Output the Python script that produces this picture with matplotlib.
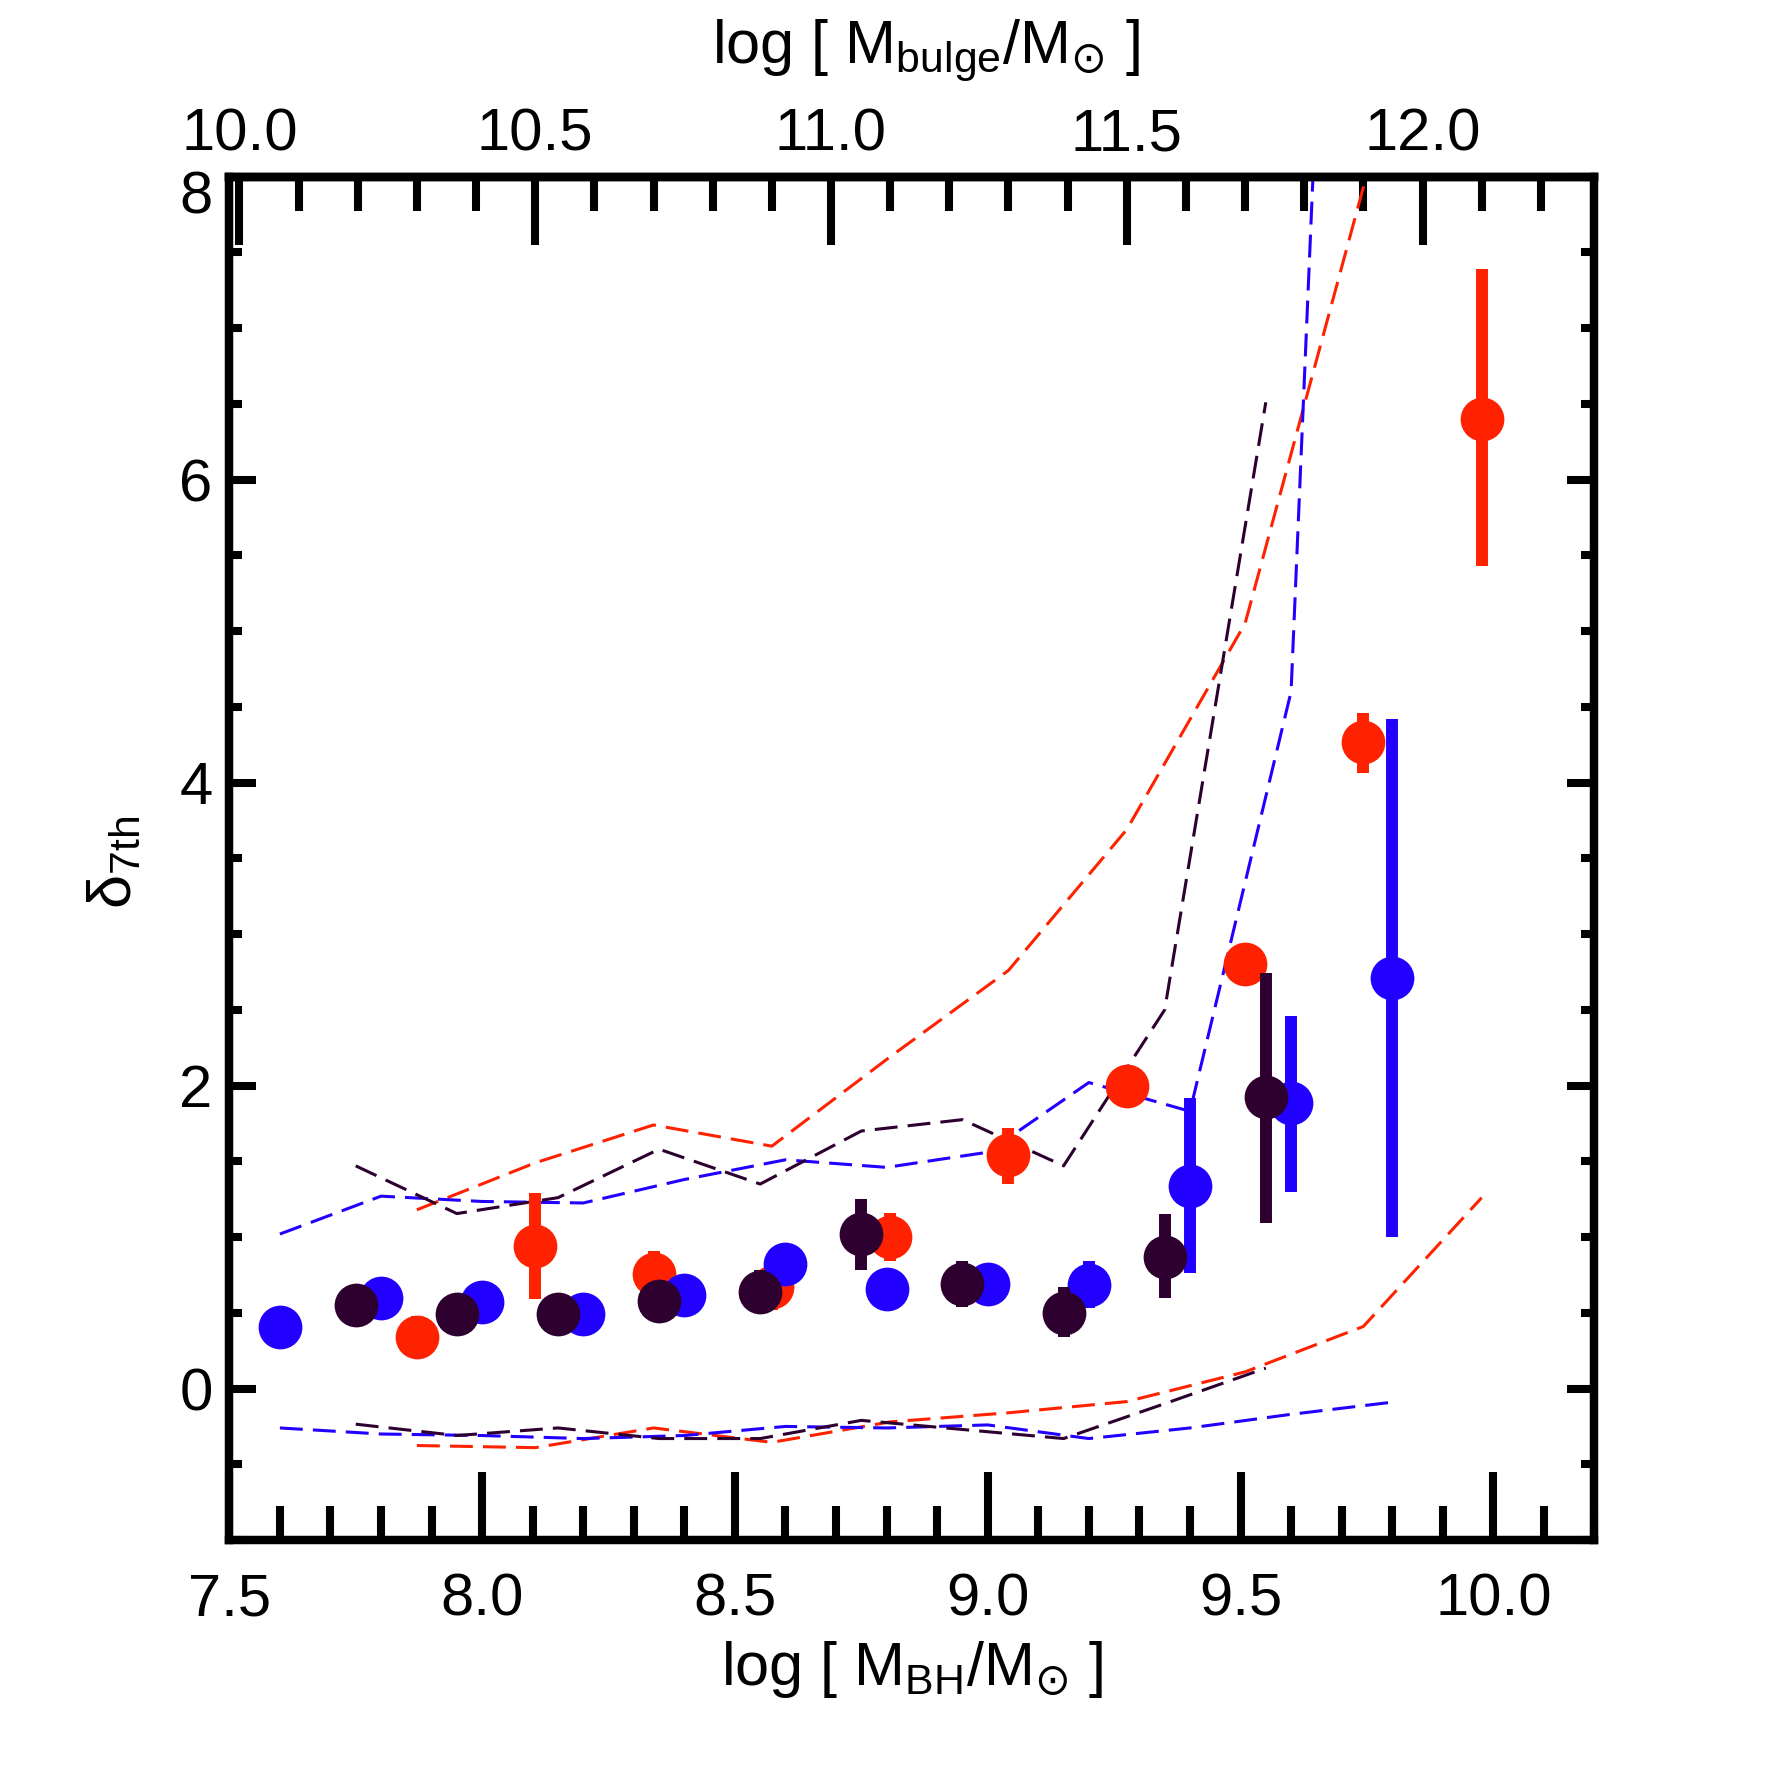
import matplotlib
matplotlib.use('Agg')
import matplotlib.pyplot as plt
from matplotlib.ticker import MultipleLocator, FixedLocator, FormatStrFormatter, FuncFormatter
import matplotlib.transforms as mtransforms

plt.rcParams['font.family'] = ['Liberation Sans', 'DejaVu Sans']
plt.rcParams['mathtext.fontset'] = 'custom'
plt.rcParams['mathtext.rm'] = 'Liberation Sans'
plt.rcParams['mathtext.it'] = 'Liberation Sans:italic'
plt.rcParams['mathtext.bf'] = 'Liberation Sans:bold'
plt.rcParams['mathtext.sf'] = 'DejaVu Sans'
plt.rcParams['mathtext.fallback'] = 'stixsans'

# ---------------- data ----------------
red_x = [7.871, 8.105, 8.339, 8.573, 8.807, 9.041, 9.275, 9.509, 9.743, 9.977]
red_y = [0.34, 0.94, 0.755, 0.67, 1.00, 1.54, 2.00, 2.80, 4.27, 6.40]
red_lo = [0.20, 0.59, 0.60, 0.52, 0.84, 1.35, 1.93, 2.73, 4.06, 5.43]
red_hi = [0.48, 1.29, 0.91, 0.82, 1.16, 1.72, 2.07, 2.87, 4.46, 7.39]
red_upper = [1.18, 1.49, 1.74, 1.60, 2.19, 2.76, 3.69, 5.05, 7.93, 12.0]
red_lower = [-0.376, -0.39, -0.26, -0.355, -0.22, -0.16, -0.086, 0.11, 0.41, 1.26]

blue_x = [7.6, 7.8, 8.0, 8.2, 8.4, 8.6, 8.8, 9.0, 9.2, 9.4, 9.6, 9.8]
blue_y = [0.405, 0.60, 0.57, 0.49, 0.62, 0.82, 0.66, 0.69, 0.685, 1.34, 1.885, 2.71]
blue_lo = [0.335, 0.53, 0.50, 0.42, 0.55, 0.75, 0.59, 0.62, 0.53, 0.76, 1.30, 1.00]
blue_hi = [0.475, 0.67, 0.64, 0.56, 0.69, 0.89, 0.73, 0.76, 0.84, 1.92, 2.46, 4.42]
blue_upper = [1.02, 1.27, 1.235, 1.225, 1.38, 1.51, 1.46, 1.56, 2.02, 1.83, 4.60, 20.3]
blue_lower = [-0.26, -0.30, -0.31, -0.33, -0.31, -0.25, -0.26, -0.24, -0.33, -0.26, -0.17, -0.09]

purple_x = [7.75, 7.95, 8.15, 8.35, 8.55, 8.75, 8.95, 9.15, 9.35, 9.55]
purple_y = [0.55, 0.49, 0.49, 0.575, 0.64, 1.02, 0.69, 0.50, 0.87, 1.925]
purple_lo = [0.48, 0.42, 0.42, 0.505, 0.50, 0.78, 0.54, 0.34, 0.60, 1.09]
purple_hi = [0.62, 0.56, 0.56, 0.645, 0.78, 1.25, 0.84, 0.67, 1.15, 2.74]
purple_upper = [1.47, 1.155, 1.26, 1.58, 1.35, 1.70, 1.775, 1.47, 2.50, 6.51]
purple_lower = [-0.235, -0.31, -0.26, -0.33, -0.33, -0.21, -0.27, -0.33, -0.10, 0.135]

top_ticks = [10.0, 10.5, 11.0, 11.5, 12.0]
# M_BH - M_bulge relation used for the top axis
rel_a, rel_b = 8.69, 1.17

RED = '#ff2200'
BLUE = '#2200ff'
PURPLE = '#2e0030'

# ---------------- figure ----------------
fig = plt.figure(figsize=(17.71, 17.71), dpi=100)
ax = fig.add_axes([0.1295, 0.1304, 0.7708, 0.7699])
ax.set_xlim(7.5, 10.2)
ax.set_ylim(-1, 8)

dash = (0, (7.5, 3.3))
for xs, up, lo, c in [(red_x, red_upper, red_lower, RED),
                      (blue_x, blue_upper, blue_lower, BLUE),
                      (purple_x, purple_upper, purple_lower, PURPLE)]:
    ax.plot(xs, up, color=c, lw=2.2, ls=dash, zorder=2)
    ax.plot(xs, lo, color=c, lw=2.2, ls=dash, zorder=2)

for xs, ys, lo, hi, c, z in [(red_x, red_y, red_lo, red_hi, RED, 3),
                             (blue_x, blue_y, blue_lo, blue_hi, BLUE, 4),
                             (purple_x, purple_y, purple_lo, purple_hi, PURPLE, 5)]:
    yerr = [[y - l for y, l in zip(ys, lo)], [h - y for y, h in zip(ys, hi)]]
    ax.errorbar(xs, ys, yerr=yerr, fmt='o', ms=31.5, mfc=c, mec=c, mew=0,
                ecolor=c, elinewidth=8.6, capsize=7.5, capthick=7.9, zorder=z)

# ticks
spine_lw = 6.1
tick_w = 5.8
for s in ax.spines.values():
    s.set_linewidth(spine_lw)
ax.xaxis.set_major_locator(MultipleLocator(0.5))
ax.xaxis.set_minor_locator(MultipleLocator(0.1))
ax.xaxis.set_major_formatter(FormatStrFormatter('%.1f'))
ax.yaxis.set_major_locator(MultipleLocator(2))
ax.yaxis.set_minor_locator(MultipleLocator(0.5))
ax.yaxis.set_major_formatter(FuncFormatter(lambda v, p: '' if abs(v - 8) < 1e-6 else '%d' % round(v)))
ax.tick_params(which='both', direction='in', top=False, bottom=True,
               left=True, right=True, width=tick_w, colors='black')
ax.tick_params(axis='x', which='major', length=49, pad=23, labelsize=43)
ax.tick_params(axis='x', which='minor', length=24.5)
ax.tick_params(axis='y', which='major', length=19.5, pad=12, labelsize=43)
ax.tick_params(axis='y', which='minor', length=9.4)

# the "8" label sits a little lower than its tick in the original
trans8 = ax.get_yaxis_transform() + mtransforms.ScaledTranslation(-12 / 72, -15 / 100, fig.dpi_scale_trans)
ax.text(0, 8, '8', transform=trans8, ha='right', va='center_baseline', fontsize=43, clip_on=False)

sec = ax.secondary_xaxis('top', functions=(lambda bh: 11 + (bh - rel_a) / rel_b,
                                           lambda b: rel_a + rel_b * (b - 11)))
sec.xaxis.set_major_locator(FixedLocator(top_ticks))
sec.xaxis.set_minor_locator(MultipleLocator(0.1))
sec.xaxis.set_major_formatter(FormatStrFormatter('%.1f'))
sec.tick_params(which='both', direction='in', width=tick_w)
sec.tick_params(which='major', length=49, pad=10, labelsize=43)
sec.tick_params(which='minor', length=24.5)
for s in sec.spines.values():
    s.set_linewidth(spine_lw)

# axis titles
fig.text(912 / 1771, 1 - 1685 / 1771, r'log [ M$_{\rm BH}$/M$_{\mathsf{⊙}}$ ]',
         ha='center', va='baseline', fontsize=44)
fig.text(926 / 1771, 1 - 63 / 1771, r'log [ M$_{\rm bulge}$/M$_{\mathsf{⊙}}$ ]',
         ha='center', va='baseline', fontsize=44)
fig.text(130 / 1771, 1 - 862 / 1771, r'δ$_{\rm 7th}$', rotation=90,
         rotation_mode='anchor', ha='center', va='baseline', fontsize=44)

fig.savefig('out.png', dpi=100, facecolor='white')
